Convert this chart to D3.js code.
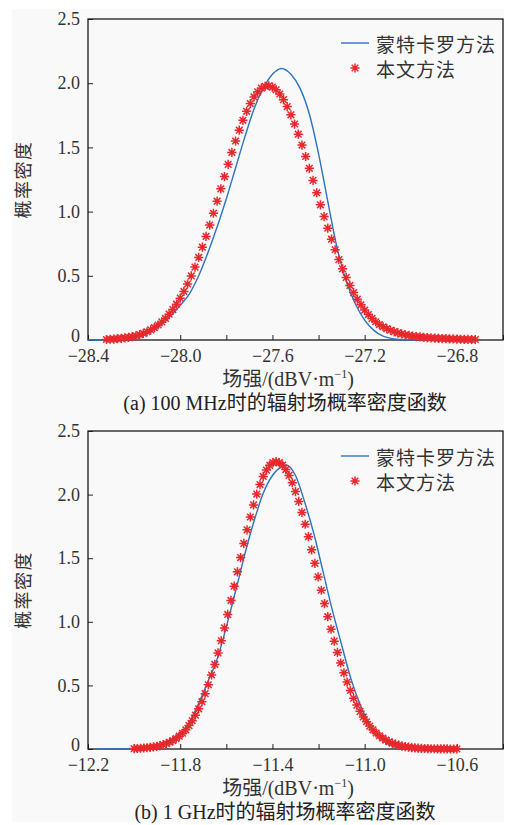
<!DOCTYPE html>
<html>
<head>
<meta charset="utf-8">
<script src="https://cdn.jsdelivr.net/npm/d3@7"></script>
<style>
  body { margin: 0; background: #fff; }
  svg { display: block; }
</style>
</head>
<body>
<script>
// chart data
let yTicks = [0, 0.5, 1.0, 1.5, 2.0, 2.5];
let legendNames = ["蒙特卡罗方法", "本文方法"];

// (a) 100 MHz
let ticksA = [-28.4, -28.2, -28.0, -27.8, -27.6, -27.4, -27.2, -27.0, -26.8, -26.6];
let labelsA = [-28.4, -28.0, -27.6, -27.2, -26.8];
let mcXA = [-28.40, -28.30, -28.24, -28.20, -28.16, -28.12, -28.08, -28.04, -28.00, -27.96,
  -27.92, -27.88, -27.84, -27.80, -27.76, -27.72, -27.68, -27.64, -27.60, -27.56,
  -27.52, -27.48, -27.44, -27.40, -27.36, -27.32, -27.28, -27.24, -27.20, -27.16,
  -27.12, -27.08, -27.04, -27.00, -26.96];
let mcYA = [0, 0, 0.005, 0.012, 0.035, 0.075, 0.125, 0.19, 0.27, 0.36,
  0.50, 0.68, 0.88, 1.10, 1.34, 1.58, 1.80, 1.96, 2.07, 2.115,
  2.07, 1.96, 1.76, 1.45, 1.08, 0.72, 0.46, 0.28, 0.155, 0.075,
  0.03, 0.01, 0.002, 0, 0];
let ourXA = [-28.32, -28.304, -28.288, -28.272, -28.256, -28.24, -28.224, -28.208, -28.192, -28.176,
  -28.16, -28.144, -28.128, -28.112, -28.096, -28.08, -28.064, -28.048, -28.032, -28.016,
  -28.0, -27.984, -27.968, -27.952, -27.936, -27.92, -27.904, -27.888, -27.872, -27.856,
  -27.84, -27.824, -27.808, -27.792, -27.776, -27.76, -27.744, -27.728, -27.712, -27.696,
  -27.68, -27.664, -27.648, -27.632, -27.616, -27.6, -27.584, -27.568, -27.552, -27.536,
  -27.52, -27.504, -27.488, -27.472, -27.456, -27.44, -27.424, -27.408, -27.392, -27.376,
  -27.36, -27.344, -27.328, -27.312, -27.296, -27.28, -27.264, -27.248, -27.232, -27.216,
  -27.2, -27.184, -27.168, -27.152, -27.136, -27.12, -27.104, -27.088, -27.072, -27.056,
  -27.04, -27.024, -27.008, -26.992, -26.976, -26.96, -26.944, -26.928, -26.912, -26.896,
  -26.88, -26.864, -26.848, -26.832, -26.816, -26.8, -26.784, -26.768, -26.752, -26.736,
  -26.72];
let ourYA = [0.004, 0.006, 0.007, 0.010, 0.013, 0.016, 0.021, 0.026, 0.033, 0.042,
  0.052, 0.064, 0.079, 0.096, 0.117, 0.141, 0.168, 0.201, 0.237, 0.279,
  0.326, 0.378, 0.436, 0.499, 0.568, 0.643, 0.723, 0.807, 0.895, 0.987,
  1.081, 1.177, 1.273, 1.368, 1.461, 1.550, 1.634, 1.711, 1.781, 1.842,
  1.893, 1.933, 1.961, 1.976, 1.980, 1.970, 1.949, 1.916, 1.872, 1.818,
  1.754, 1.682, 1.603, 1.518, 1.429, 1.337, 1.243, 1.147, 1.053, 0.961,
  0.871, 0.785, 0.703, 0.626, 0.554, 0.487, 0.425, 0.369, 0.318, 0.274,
  0.233, 0.198, 0.168, 0.142, 0.120, 0.103, 0.088, 0.076, 0.065, 0.056,
  0.048, 0.041, 0.036, 0.031, 0.027, 0.024, 0.021, 0.018, 0.016, 0.014,
  0.012, 0.011, 0.010, 0.009, 0.008, 0.007, 0.006, 0.005, 0.005, 0.004,
  0.004];

// (b) 1 GHz
let ticksB = [-12.2, -12.0, -11.8, -11.6, -11.4, -11.2, -11.0, -10.8, -10.6, -10.4];
let labelsB = [-12.2, -11.8, -11.4, -11.0, -10.6];
let mcXB = [-12.16, -12.00, -11.96, -11.92, -11.88, -11.84, -11.80, -11.76, -11.72, -11.68,
  -11.64, -11.60, -11.56, -11.52, -11.48, -11.44, -11.40, -11.36, -11.34, -11.30,
  -11.26, -11.22, -11.18, -11.14, -11.10, -11.06, -11.02, -10.98, -10.94, -10.90,
  -10.86, -10.82, -10.78];
let mcYB = [0, 0, 0.004, 0.015, 0.035, 0.075, 0.125, 0.21, 0.36, 0.53,
  0.705, 0.96, 1.24, 1.53, 1.79, 2.01, 2.15, 2.22, 2.233, 2.15,
  1.94, 1.69, 1.39, 1.09, 0.82, 0.555, 0.35, 0.2, 0.1, 0.04,
  0.012, 0.002, 0];
let ourXB = [-12.0, -11.986, -11.972, -11.958, -11.944, -11.93, -11.916, -11.902, -11.888, -11.874,
  -11.86, -11.846, -11.832, -11.818, -11.804, -11.79, -11.776, -11.762, -11.748, -11.734,
  -11.72, -11.706, -11.692, -11.678, -11.664, -11.65, -11.636, -11.622, -11.608, -11.594,
  -11.58, -11.566, -11.552, -11.538, -11.524, -11.51, -11.496, -11.482, -11.468, -11.454,
  -11.44, -11.426, -11.412, -11.398, -11.384, -11.37, -11.356, -11.342, -11.328, -11.314,
  -11.3, -11.286, -11.272, -11.258, -11.244, -11.23, -11.216, -11.202, -11.188, -11.174,
  -11.16, -11.146, -11.132, -11.118, -11.104, -11.09, -11.076, -11.062, -11.048, -11.034,
  -11.02, -11.006, -10.992, -10.978, -10.964, -10.95, -10.936, -10.922, -10.908, -10.894,
  -10.88, -10.866, -10.852, -10.838, -10.824, -10.81, -10.796, -10.782, -10.768, -10.754,
  -10.74, -10.726, -10.712, -10.698, -10.684, -10.67, -10.656, -10.642, -10.628, -10.614,
  -10.6];
let ourYB = [0.003, 0.004, 0.006, 0.008, 0.010, 0.013, 0.017, 0.021, 0.027, 0.034,
  0.043, 0.053, 0.066, 0.082, 0.101, 0.124, 0.151, 0.184, 0.222, 0.266,
  0.316, 0.372, 0.435, 0.505, 0.582, 0.665, 0.755, 0.851, 0.952, 1.058,
  1.168, 1.280, 1.393, 1.505, 1.616, 1.723, 1.824, 1.919, 2.004, 2.079,
  2.143, 2.193, 2.230, 2.252, 2.260, 2.252, 2.231, 2.197, 2.151, 2.093,
  2.024, 1.946, 1.860, 1.767, 1.669, 1.566, 1.460, 1.353, 1.248, 1.143,
  1.040, 0.942, 0.848, 0.759, 0.676, 0.599, 0.526, 0.460, 0.399, 0.345,
  0.296, 0.252, 0.214, 0.180, 0.151, 0.126, 0.104, 0.086, 0.070, 0.057,
  0.046, 0.037, 0.030, 0.023, 0.019, 0.015, 0.011, 0.009, 0.007, 0.005,
  0.004, 0.003, 0.002, 0.002, 0.001, 0.001, 0.001, 0.001, 0.000, 0.000,
  0.000];

let width = 512;
let height = 825;
let blue = "#2b73c2";
let red = "#e8282c";
let serif = "'Liberation Serif', 'Noto Sans CJK SC', serif";

let svg = d3.select("body").append("svg")
  .attr("width", width)
  .attr("height", height);

// light gray paper
svg.append("rect")
  .attr("x", 12).attr("y", 9)
  .attr("width", 492).attr("height", 813)
  .attr("fill", "#f9f9f9");

// asterisk marker, like matlab '*'
function star(r) {
  let k = r * 0.72;
  return `M${-r},0L${r},0M0,${-r}L0,${r}M${-k},${-k}L${k},${k}M${-k},${k}L${k},${-k}`;
}

let fmt = d => d === 0 ? "0" : d3.format(".1f")(d).replace("-", "\u2212");

function drawPanel(p) {
  let x = d3.scaleLinear().domain(p.domain).range([88, 503]);
  let y = d3.scaleLinear().domain([0, 2.5]).range([p.bottom, p.top]);
  let g = svg.append("g");

  // bottom axis, ticks inside
  let xAxis = d3.axisBottom(x)
    .tickValues(p.ticks)
    .tickSize(-5)
    .tickSizeOuter(0)
    .tickPadding(9)
    .tickFormat(d => p.labels.some(v => Math.abs(v - d) < 1e-9) ? fmt(d) : "");
  let gx = g.append("g")
    .attr("transform", `translate(0, ${p.bottom})`)
    .call(xAxis);

  let yAxis = d3.axisLeft(y)
    .tickValues(yTicks)
    .tickSize(-5)
    .tickSizeOuter(0)
    .tickPadding(8)
    .tickFormat(fmt);
  let gy = g.append("g")
    .attr("transform", "translate(88, 0)")
    .call(yAxis);

  [gx, gy].forEach(a => {
    a.select(".domain").remove();
    a.selectAll("line").attr("stroke", "#222").attr("stroke-width", 1);
    a.selectAll("text")
      .style("font-family", serif)
      .style("font-size", "18px")
      .attr("fill", "#333");
  });
  // the zero label sits a bit above the axis, as in the reference
  gy.selectAll(".tick text").filter(d => d === 0).attr("y", -4);

  // frame
  g.append("rect")
    .attr("x", 88).attr("y", p.top)
    .attr("width", 415).attr("height", p.bottom - p.top)
    .attr("fill", "none")
    .attr("stroke", "#1a1a1a")
    .attr("stroke-width", 1.3);

  // monte carlo curve
  let line = d3.line()
    .x((d, i) => x(p.mcX[i]))
    .y(d => y(d))
    .curve(d3.curveMonotoneX);
  g.append("path")
    .datum(p.mcY)
    .attr("d", line)
    .attr("fill", "none")
    .attr("stroke", blue)
    .attr("stroke-width", 1.4);

  // proposed method, asterisks
  g.selectAll(".pt")
    .data(p.ourY)
    .enter()
    .append("path")
    .classed("pt", true)
    .attr("transform", (d, i) => `translate(${x(p.ourX[i])}, ${y(d)})`)
    .attr("d", star(4.6))
    .attr("fill", "none")
    .attr("stroke", red)
    .attr("stroke-width", 1.5);

  // y label
  g.append("text")
    .attr("transform", `translate(22, ${(p.top + p.bottom) / 2}) rotate(-90)`)
    .attr("text-anchor", "middle")
    .attr("dominant-baseline", "central")
    .style("font-family", "'Noto Sans CJK SC', sans-serif")
    .style("font-size", "18px")
    .style("letter-spacing", "1.5px")
    .attr("fill", "#333")
    .text("概率密度");

  // x label with superscript
  let xt = g.append("text")
    .attr("x", 288)
    .attr("y", p.bottom + 46)
    .attr("text-anchor", "middle")
    .style("font-family", serif)
    .style("font-size", "20px")
    .attr("fill", "#333");
  xt.append("tspan").text("场强/(dBV\u00b7m");
  xt.append("tspan").attr("dy", -8).style("font-size", "12px").text("\u2212");
  xt.append("tspan").style("font-size", "12px").text("1");
  xt.append("tspan").attr("dy", 8).text(")");

  // caption
  g.append("text")
    .attr("x", 285)
    .attr("y", p.bottom + 70)
    .attr("text-anchor", "middle")
    .style("font-family", serif)
    .style("font-size", "20px")
    .attr("fill", "#222")
    .text(p.caption);

  // legend
  g.append("line")
    .attr("x1", 341).attr("x2", 369)
    .attr("y1", p.legY).attr("y2", p.legY)
    .attr("stroke", blue)
    .attr("stroke-width", 1.4);
  g.append("path")
    .attr("transform", `translate(355, ${p.legY + 25})`)
    .attr("d", star(4.6))
    .attr("fill", "none")
    .attr("stroke", red)
    .attr("stroke-width", 1.5);
  legendNames.forEach((name, i) => {
    g.append("text")
      .attr("x", 376)
      .attr("y", p.legY + 25 * i)
      .attr("dominant-baseline", "central")
      .style("font-family", "'Noto Sans CJK SC', sans-serif")
      .style("font-size", "19px")
      .style("letter-spacing", "1px")
      .attr("fill", "#333")
      .text(name);
  });
}

drawPanel({
  top: 19, bottom: 340, domain: [-28.4, -26.6],
  ticks: ticksA, labels: labelsA,
  mcX: mcXA, mcY: mcYA, ourX: ourXA, ourY: ourYA,
  caption: "(a) 100 MHz时的辐射场概率密度函数",
  legY: 43
});

drawPanel({
  top: 431, bottom: 749, domain: [-12.2, -10.4],
  ticks: ticksB, labels: labelsB,
  mcX: mcXB, mcY: mcYB, ourX: ourXB, ourY: ourYB,
  caption: "(b) 1 GHz时的辐射场概率密度函数",
  legY: 456
});
</script>
</body>
</html>
